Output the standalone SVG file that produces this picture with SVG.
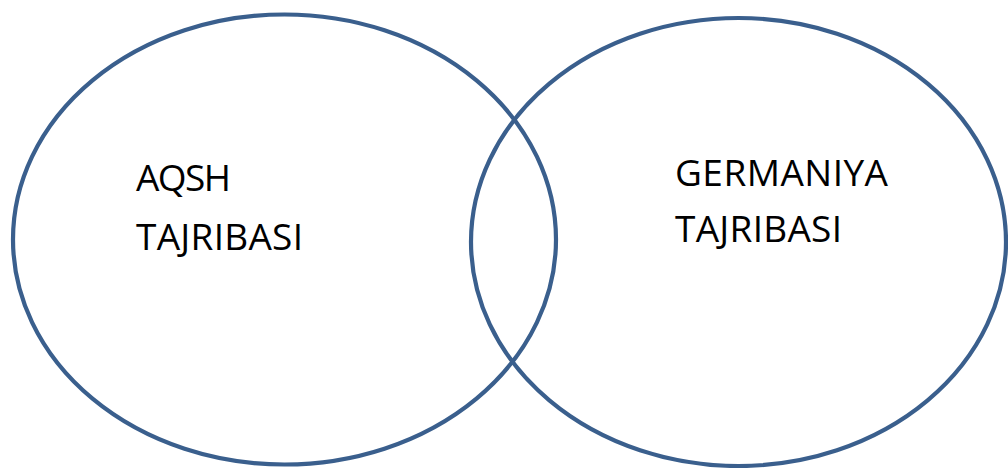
<svg xmlns="http://www.w3.org/2000/svg" width="1008" height="468" viewBox="0 0 1008 468">
<style>
.c{fill:none;stroke:#3A5F8D;stroke-width:4.2}
.t{font-family:"Open Sans",sans-serif;font-size:37px;fill:#000}
</style>
<rect width="1008" height="468" fill="#fff"/>
<g id="aqsh">
<ellipse class="c" cx="284.5" cy="239.5" rx="271.5" ry="225"/>
<text class="t" x="136" y="190.5" textLength="95" lengthAdjust="spacing">AQSH</text>
<text class="t" x="136" y="250" textLength="167" lengthAdjust="spacing">TAJRIBASI</text>
</g>
<g id="germaniya">
<ellipse class="c" cx="738.5" cy="242" rx="267.5" ry="224"/>
<text class="t" x="675" y="186" textLength="213" lengthAdjust="spacing">GERMANIYA</text>
<text class="t" x="675" y="241.5" textLength="167" lengthAdjust="spacing">TAJRIBASI</text>
</g>
<g id="connectors"/>
</svg>
